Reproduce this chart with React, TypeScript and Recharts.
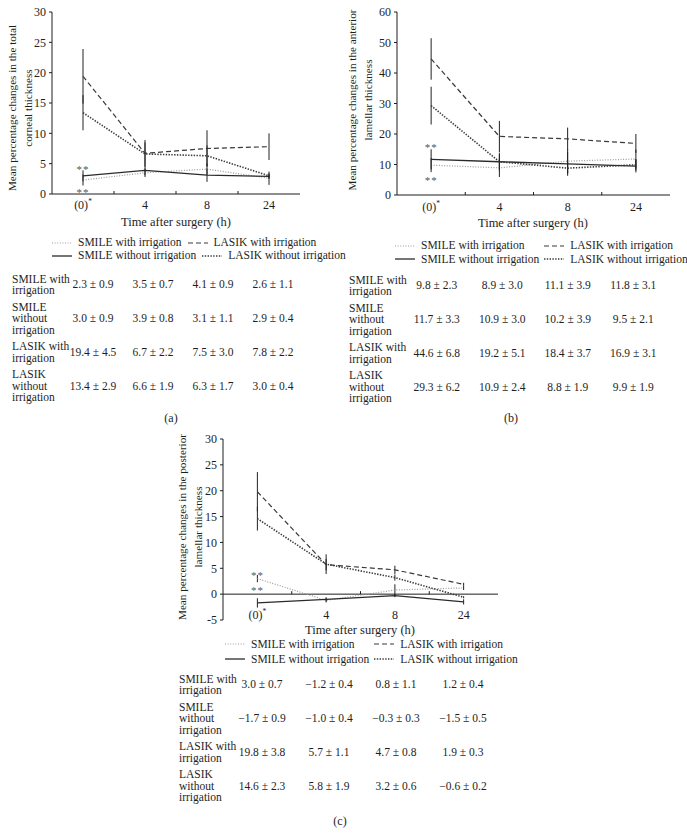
import React from "react";
import { LineChart, Line, XAxis, YAxis, ErrorBar, ReferenceLine, ReferenceDot } from "recharts";

const FONT = '"Liberation Serif", "Times New Roman", serif';
const INK = "#1e1e1e";

const categories = ["(0)", "4", "8", "24"];

// (a) total corneal thickness
const totalSmileWith = [2.3, 3.5, 4.1, 2.6];
const totalSmileWithSd = [0.9, 0.7, 0.9, 1.1];
const totalSmileWithout = [3.0, 3.9, 3.1, 2.9];
const totalSmileWithoutSd = [0.9, 0.8, 1.1, 0.4];
const totalLasikWith = [19.4, 6.7, 7.5, 7.8];
const totalLasikWithSd = [4.5, 2.2, 3.0, 2.2];
const totalLasikWithout = [13.4, 6.6, 6.3, 3.0];
const totalLasikWithoutSd = [2.9, 1.9, 1.7, 0.4];
const totalTicks = [0, 5, 10, 15, 20, 25, 30];
const totalStars = [4.5, 0.6];

// (b) anterior lamellar thickness
const antSmileWith = [9.8, 8.9, 11.1, 11.8];
const antSmileWithSd = [2.3, 3.0, 3.9, 3.1];
const antSmileWithout = [11.7, 10.9, 10.2, 9.5];
const antSmileWithoutSd = [3.3, 3.0, 3.9, 2.1];
const antLasikWith = [44.6, 19.2, 18.4, 16.9];
const antLasikWithSd = [6.8, 5.1, 3.7, 3.1];
const antLasikWithout = [29.3, 10.9, 8.8, 9.9];
const antLasikWithoutSd = [6.2, 2.4, 1.9, 1.9];
const antTicks = [0, 10, 20, 30, 40, 50, 60];
const antStars = [16.5, 5.6];

// (c) posterior lamellar thickness
const postSmileWith = [3.0, -1.2, 0.8, 1.2];
const postSmileWithSd = [0.7, 0.4, 1.1, 0.4];
const postSmileWithout = [-1.7, -1.0, -0.3, -1.5];
const postSmileWithoutSd = [0.9, 0.4, 0.3, 0.5];
const postLasikWith = [19.8, 5.7, 4.7, 1.9];
const postLasikWithSd = [3.8, 1.1, 0.8, 0.3];
const postLasikWithout = [14.6, 5.8, 3.2, -0.6];
const postLasikWithoutSd = [2.3, 1.9, 0.6, 0.2];
const postTicks = [-5, 0, 5, 10, 15, 20, 25, 30];
const postStars = [4.1, 1.1];

const SERIES = [
  { key: "sw", name: "SMILE with irrigation", rowLabel: ["SMILE with", "irrigation"], stroke: "#9a9a9a", dash: "1 1.6", width: 1.2 },
  { key: "so", name: "SMILE without irrigation", rowLabel: ["SMILE", "without", "irrigation"], stroke: "#2a2a2a", dash: undefined, width: 1.3 },
  { key: "lw", name: "LASIK with irrigation", rowLabel: ["LASIK with", "irrigation"], stroke: "#3a3a3a", dash: "5 3", width: 1.2 },
  { key: "lo", name: "LASIK without irrigation", rowLabel: ["LASIK", "without", "irrigation"], stroke: "#3a3a3a", dash: "1.4 1.4", width: 1.6 },
];
const LEGEND_ORDER = ["sw", "lw", "so", "lo"];

function buildData(means: number[][], sds: number[][]) {
  return categories.map((cat, i) => {
    const row: Record<string, number | string> = { cat };
    SERIES.forEach((s, k) => {
      row[s.key] = means[k][i];
      row[s.key + "E"] = sds[k][i];
    });
    return row;
  });
}

const fmt = (v: number) => (v < 0 ? "\u2212" + Math.abs(v).toFixed(1) : v.toFixed(1));

function CatTick(props: any) {
  const { x, y, payload, index, band, lineOffset, labelDy } = props;
  return (
    <g>
      <text x={x} y={y + labelDy} textAnchor="middle" fontSize={12} fill={INK} fontFamily={FONT}>
        {payload.value}
        {payload.value === "(0)" && (
          <tspan dy={-5} fontSize={7.5}>
            *
          </tspan>
        )}
      </text>
      {index < categories.length - 1 && (
        <line x1={x + band / 2} x2={x + band / 2} y1={y - lineOffset} y2={y - lineOffset - 3} stroke={INK} />
      )}
    </g>
  );
}

function Stars(props: any) {
  return (
    <text x={props.cx} y={props.cy + 6} textAnchor="middle" fontSize={11} fill="#555" fontFamily={FONT} letterSpacing={1}>
      **
    </text>
  );
}

function Sample({ s }: { s: (typeof SERIES)[number] }) {
  return (
    <svg width={20} height={6} style={{ display: "block" }}>
      <line x1={0} y1={3} x2={20} y2={3} stroke={s.stroke} strokeWidth={s.width} strokeDasharray={s.dash} />
    </svg>
  );
}

type PanelProps = {
  means: number[][];
  sds: number[][];
  ticks: number[];
  stars: number[];
  box: { left: number; top: number; width: number; height: number };
  margin: { top: number; right: number; left: number; bottom: number };
  xAxisHeight: number;
  labelDy: number;
  zeroLine?: boolean;
  yLabel: string[];
  yLabelPos: { x: number; y: number };
  xTitlePos: { x: number; y: number };
  legend: { left: number; top: number; rowH: number; flow: boolean };
  table: { left: number; top: number; labelW: number; colW: number };
  caption: { text: string; x: number; y: number };
};

function Panel(p: PanelProps) {
  const data = buildData(p.means, p.sds);
  const plotW = p.box.width - p.margin.left - p.margin.right - 30;
  const plotH = p.box.height - p.margin.top - p.margin.bottom - p.xAxisHeight;
  const band = plotW / categories.length;
  const lo = p.ticks[0];
  const hi = p.ticks[p.ticks.length - 1];
  const lineOffset = p.zeroLine ? (plotH * (0 - lo)) / (hi - lo) : 0;
  const byKey = (k: string) => SERIES.find((s) => s.key === k)!;

  return (
    <>
      <div style={{ position: "absolute", left: p.box.left, top: p.box.top }}>
        <LineChart width={p.box.width} height={p.box.height} data={data} margin={p.margin}>
          <XAxis
            dataKey="cat"
            type="category"
            scale="band"
            interval={0}
            height={p.xAxisHeight}
            tickSize={0}
            tickMargin={0}
            axisLine={p.zeroLine ? false : { stroke: INK }}
            tickLine={false}
            tick={(tp: any) => <CatTick {...tp} band={band} lineOffset={lineOffset} labelDy={p.labelDy} />}
          />
          <YAxis
            type="number"
            domain={[lo, hi]}
            ticks={p.ticks}
            width={30}
            tickSize={3}
            tickMargin={3}
            axisLine={{ stroke: INK }}
            tickLine={{ stroke: INK }}
            tick={{ fontSize: 12, fill: INK, fontFamily: FONT }}
          />
          {p.zeroLine && <ReferenceLine y={0} stroke={INK} />}
          {SERIES.map((s) => (
            <Line
              key={s.key}
              type="linear"
              dataKey={s.key}
              stroke={s.stroke}
              strokeWidth={s.width}
              strokeDasharray={s.dash}
              dot={false}
              activeDot={false}
              isAnimationActive={false}
            >
              <ErrorBar dataKey={s.key + "E"} direction="y" width={0} stroke="#222" strokeWidth={1} isAnimationActive={false} />
            </Line>
          ))}
          {p.stars.map((v, i) => (
            <ReferenceDot key={i} x={categories[0]} y={v} r={0} ifOverflow="visible" shape={Stars} />
          ))}
        </LineChart>
      </div>

      <div
        style={{
          position: "absolute",
          left: p.yLabelPos.x,
          top: p.yLabelPos.y,
          transform: "translate(-50%, -50%) rotate(-90deg)",
          lineHeight: "16px",
          fontSize: 11.2,
          textAlign: "center",
          whiteSpace: "nowrap",
        }}
      >
        {p.yLabel.map((l) => (
          <div key={l}>{l}</div>
        ))}
      </div>

      <div
        style={{
          position: "absolute",
          left: p.xTitlePos.x,
          top: p.xTitlePos.y,
          transform: "translate(-50%, -50%)",
          whiteSpace: "nowrap",
          lineHeight: "14px",
          fontSize: 12.5,
        }}
      >
        Time after surgery (h)
      </div>

      {p.legend.flow ? (
        <div style={{ position: "absolute", left: p.legend.left, top: p.legend.top, lineHeight: p.legend.rowH + "px", fontSize: 11.5 }}>
          {[0, 2].map((r) => (
            <div key={r} style={{ display: "flex", alignItems: "center", gap: 6, whiteSpace: "nowrap" }}>
              {LEGEND_ORDER.slice(r, r + 2).map((k) => (
                <React.Fragment key={k}>
                  <Sample s={byKey(k)} />
                  <span>{byKey(k).name}</span>
                </React.Fragment>
              ))}
            </div>
          ))}
        </div>
      ) : (
        <div
          style={{
            position: "absolute",
            left: p.legend.left,
            top: p.legend.top,
            lineHeight: p.legend.rowH + "px",
            fontSize: 11.5,
            display: "grid",
            gridTemplateColumns: "auto auto",
            columnGap: 5,
          }}
        >
          {LEGEND_ORDER.map((k) => (
            <div key={k} style={{ display: "flex", alignItems: "center", gap: 6, whiteSpace: "nowrap" }}>
              <Sample s={byKey(k)} />
              <span>{byKey(k).name}</span>
            </div>
          ))}
        </div>
      )}

      <div
        style={{
          position: "absolute",
          left: p.table.left,
          top: p.table.top,
          display: "grid",
          gridTemplateColumns: `${p.table.labelW}px repeat(4, ${p.table.colW}px)`,
          lineHeight: "11.5px",
          fontSize: 11.5,
        }}
      >
        {SERIES.map((s, k) => (
          <React.Fragment key={s.key}>
            <div style={{ padding: "2.5px 0", whiteSpace: "nowrap" }}>
              {s.rowLabel.map((l) => (
                <div key={l}>{l}</div>
              ))}
            </div>
            {categories.map((_, i) => (
              <div key={i} style={{ alignSelf: "center", textAlign: "center", whiteSpace: "nowrap" }}>
                {fmt(p.means[k][i])} ± {fmt(p.sds[k][i])}
              </div>
            ))}
          </React.Fragment>
        ))}
      </div>

      <div
        style={{
          position: "absolute",
          left: p.caption.x,
          top: p.caption.y,
          transform: "translate(-50%, -50%)",
          lineHeight: "13px",
          fontSize: 12,
        }}
      >
        {p.caption.text}
      </div>
    </>
  );
}

export default function App() {
  return (
    <div
      style={{
        position: "absolute",
        left: 0,
        top: 0,
        width: 687,
        height: 833,
        background: "#fff",
        fontFamily: FONT,
        fontSize: 11.5,
        color: INK,
        overflow: "hidden",
      }}
    >
      <Panel
        means={[totalSmileWith, totalSmileWithout, totalLasikWith, totalLasikWithout]}
        sds={[totalSmileWithSd, totalSmileWithoutSd, totalLasikWithSd, totalLasikWithoutSd]}
        ticks={totalTicks}
        stars={totalStars}
        box={{ left: 0, top: 0, width: 340, height: 215 }}
        margin={{ top: 12, right: 40, left: 22, bottom: 0 }}
        xAxisHeight={21}
        labelDy={15}
        yLabel={["Mean percentage changes in the total", "corneal thickness"]}
        yLabelPos={{ x: 20, y: 108 }}
        xTitlePos={{ x: 176, y: 222 }}
        legend={{ left: 52, top: 236, rowH: 13, flow: true }}
        table={{ left: 12, top: 271, labelW: 51, colW: 60 }}
        caption={{ text: "(a)", x: 171, y: 418 }}
      />
      <Panel
        means={[antSmileWith, antSmileWithout, antLasikWith, antLasikWithout]}
        sds={[antSmileWithSd, antSmileWithoutSd, antLasikWithSd, antLasikWithoutSd]}
        ticks={antTicks}
        stars={antStars}
        box={{ left: 340, top: 0, width: 347, height: 215 }}
        margin={{ top: 12, right: 17, left: 27, bottom: 0 }}
        xAxisHeight={20}
        labelDy={16}
        yLabel={["Mean percentage changes in the anterior", "lamellar thickness"]}
        yLabelPos={{ x: 360, y: 100 }}
        xTitlePos={{ x: 533, y: 223 }}
        legend={{ left: 395, top: 239, rowH: 13.5, flow: false }}
        table={{ left: 349, top: 272, labelW: 55, colW: 65.5 }}
        caption={{ text: "(b)", x: 511, y: 418 }}
      />
      <Panel
        means={[postSmileWith, postSmileWithout, postLasikWith, postLasikWithout]}
        sds={[postSmileWithSd, postSmileWithoutSd, postLasikWithSd, postLasikWithoutSd]}
        ticks={postTicks}
        stars={postStars}
        box={{ left: 170, top: 427, width: 340, height: 203 }}
        margin={{ top: 12, right: 12, left: 23, bottom: 0 }}
        xAxisHeight={10}
        labelDy={-1}
        zeroLine
        yLabel={["Mean percentage changes in the posterior", "lamellar thickness"]}
        yLabelPos={{ x: 190, y: 527 }}
        xTitlePos={{ x: 360, y: 630 }}
        legend={{ left: 225, top: 637, rowH: 14.5, flow: false }}
        table={{ left: 179, top: 671, labelW: 49.5, colW: 67 }}
        caption={{ text: "(c)", x: 340, y: 821 }}
      />
    </div>
  );
}
